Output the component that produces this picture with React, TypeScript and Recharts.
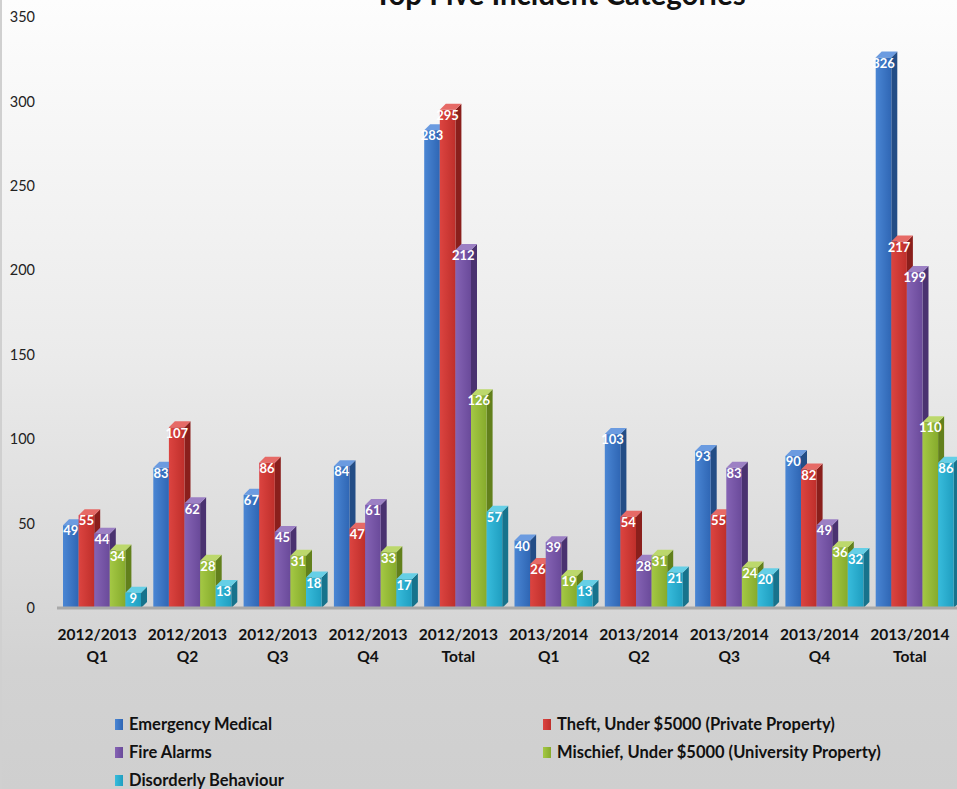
import React from 'react';
import { BarChart, Bar, XAxis, YAxis, LabelList } from 'recharts';

const categories = [
  '2012/2013\nQ1', '2012/2013\nQ2', '2012/2013\nQ3', '2012/2013\nQ4', '2012/2013\nTotal',
  '2013/2014\nQ1', '2013/2014\nQ2', '2013/2014\nQ3', '2013/2014\nQ4', '2013/2014\nTotal',
];
const emergencyMedical = [49, 83, 67, 84, 283, 40, 103, 93, 90, 326];
const theft = [55, 107, 86, 47, 295, 26, 54, 55, 82, 217];
const fireAlarms = [44, 62, 45, 61, 212, 39, 28, 83, 49, 199];
const mischief = [34, 28, 31, 33, 126, 19, 31, 24, 36, 110];
const disorderly = [9, 13, 18, 17, 57, 13, 21, 20, 32, 86];
const yTicks = [0, 50, 100, 150, 200, 250, 300, 350];

const FONT = 'Lato, "Open Sans", sans-serif';

// front / side / top colours for the 3D look
const series = [
  { key: 'em', name: 'Emergency Medical', values: emergencyMedical, light: '#4a86d4', dark: '#2f66b4', side: '#234d86', top: '#6b9be0' },
  { key: 'th', name: 'Theft, Under $5000 (Private Property)', values: theft, light: '#dc4440', dark: '#bf2f2b', side: '#8a1f1c', top: '#e66a66' },
  { key: 'fa', name: 'Fire Alarms', values: fireAlarms, light: '#8563b4', dark: '#6a4a9a', side: '#4a3270', top: '#9c80c4' },
  { key: 'mi', name: 'Mischief, Under $5000 (University Property)', values: mischief, light: '#a4c844', dark: '#86ab2c', side: '#62801c', top: '#bcd86c' },
  { key: 'di', name: 'Disorderly Behaviour', values: disorderly, light: '#38bcdc', dark: '#1f9ec0', side: '#17738c', top: '#66cfe6' },
];

const data = categories.map((name, i) => {
  const row: Record<string, string | number> = { name };
  series.forEach((s) => { row[s.key] = s.values[i]; });
  return row;
});

const DEPTH = 6;

const make3D = (s: typeof series[number]) => (props: any) => {
  const { x, y, width, height } = props;
  if (!height || height <= 0) return null;
  const d = DEPTH;
  return (
    <g>
      <polygon
        points={`${x + width},${y} ${x + width + d},${y - d} ${x + width + d},${y + height - d} ${x + width},${y + height}`}
        fill={s.side}
      />
      <polygon
        points={`${x},${y} ${x + d},${y - d} ${x + width + d},${y - d} ${x + width},${y}`}
        fill={s.top}
      />
      <rect x={x} y={y} width={width} height={height} fill={`url(#grad-${s.key})`} />
    </g>
  );
};

const CategoryTick = ({ x, y, payload }: any) => {
  const lines = String(payload.value).split('\n');
  return (
    <text textAnchor="middle" fontFamily={FONT} fontWeight="bold" fontSize={15.5} fill="#111">
      {lines.map((l, i) => (
        <tspan key={i} x={x - 5} y={y + 30 + i * 22}>{l}</tspan>
      ))}
    </text>
  );
};

export default function App() {
  return (
    <div
      style={{
        position: 'absolute', left: 0, top: 0, width: 957, height: 789, overflow: 'hidden',
        background: 'linear-gradient(to bottom, #fdfdfd 0%, #ebebeb 45%, #d2d2d2 85%, #cfcfcf 100%)',
        borderLeft: '2px solid #d0d0d0', boxSizing: 'border-box', fontFamily: FONT,
      }}
    >
      <div
        style={{
          position: 'absolute', left: 0, width: 1116, top: -21, textAlign: 'center',
          fontSize: 29.5, fontWeight: 'bold', color: '#111', lineHeight: '30px',
        }}
      >
        Top Five Incident Categories
      </div>
      <div style={{ position: 'absolute', left: -2, top: 0 }}>
        <BarChart
          width={964}
          height={789}
          data={data}
          margin={{ top: 17, right: 4, left: 0, bottom: 151 }}
          barGap={0}
          barSize={15.6}
        >
          <defs>
            {series.map((s) => (
              <linearGradient key={s.key} id={`grad-${s.key}`} x1="0" y1="0" x2="1" y2="0">
                <stop offset="0%" stopColor={s.light} />
                <stop offset="100%" stopColor={s.dark} />
              </linearGradient>
            ))}
          </defs>
          <XAxis
            dataKey="name"
            interval={0}
            height={30}
            tickLine={false}
            tickSize={0}
            axisLine={{ stroke: '#a9a9a9', strokeWidth: 3 }}
            tick={<CategoryTick />}
          />
          <YAxis
            domain={[0, 350]}
            ticks={yTicks}
            width={57}
            axisLine={false}
            tickLine={false}
            tickSize={0}
            tickMargin={22}
            tick={{ fill: '#222', fontSize: 14.5, fontFamily: FONT }}
          />
          {series.map((s) => (
            <Bar key={s.key} dataKey={s.key} name={s.name} shape={make3D(s)} isAnimationActive={false}>
              <LabelList
                dataKey={s.key}
                position="insideTop"
                offset={1}
                fill="#ffffff"
                fontSize={13}
                fontWeight="bold"
                fontFamily={FONT}
              />
            </Bar>
          ))}
        </BarChart>
      </div>
      {series.map((s, i) => (
        <div
          key={s.key}
          style={{
            position: 'absolute',
            left: i % 2 === 0 ? 113 : 541,
            top: 714 + Math.floor(i / 2) * 28,
            display: 'flex', alignItems: 'center',
            fontSize: 16.5, fontWeight: 'bold', color: '#111', whiteSpace: 'nowrap',
          }}
        >
          <span style={{ display: 'inline-block', width: 8, height: 11, background: `linear-gradient(to right, ${s.light}, ${s.dark})`, marginRight: 6 }} />
          {s.name}
        </div>
      ))}
    </div>
  );
}
